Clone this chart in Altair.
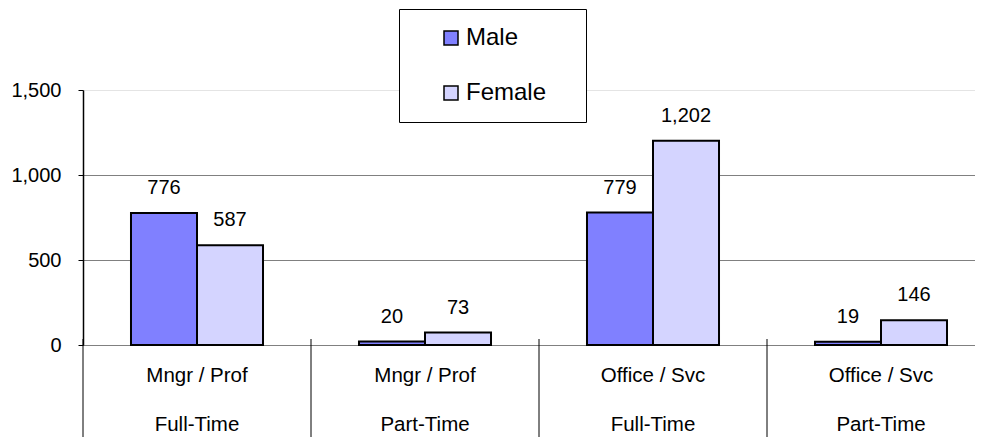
import altair as alt
import pandas as pd

# ---- data ----
categories = ["Mngr / Prof", "Mngr / Prof", "Office / Svc", "Office / Svc"]
employment = ["Full-Time", "Part-Time", "Full-Time", "Part-Time"]
male = [776, 20, 779, 19]
female = [587, 73, 1202, 146]
genders = ["Male", "Female"]
y_ticks = [0, 500, 1000, 1500]

keys = [f"{c} | {e}" for c, e in zip(categories, employment)]

bars_df = pd.DataFrame({
    "key": keys * 2,
    "gender": ["Male"] * len(keys) + ["Female"] * len(keys),
    "value": male + female,
})
groups_df = pd.DataFrame({"key": keys, "cat": categories, "emp": employment})

FONT = "Liberation Sans"

# groups are 228px wide; the 4th one runs past the right edge of the picture
x_scale = alt.Scale(domain=keys, paddingInner=0, paddingOuter=0, range=[0, 912])
x_enc = alt.X("key:N", scale=x_scale, axis=None, sort=keys)
xoff = alt.XOffset("gender:N", sort=genders,
                   scale=alt.Scale(domain=genders, paddingInner=0, paddingOuter=0.727))
y_enc = alt.Y(
    "value:Q",
    scale=alt.Scale(domain=[0, 1500], nice=False, zero=True),
    axis=alt.Axis(
        values=y_ticks, format=",.0f", title=None,
        labelFontSize=20, labelColor="black", labelPadding=17, labelFont=FONT,
        tickSize=5, tickColor="black", domainColor="black", domainWidth=1.5,
        grid=True, gridWidth=1,
        gridColor={"expr": "datum.value === 1500 ? '#e4e4e4' : '#808080'"},
    ),
)

bars = alt.Chart(bars_df).mark_bar(stroke="black", strokeWidth=2).encode(
    x=x_enc,
    xOffset=xoff,
    y=y_enc,
    color=alt.Color(
        "gender:N", sort=genders,
        scale=alt.Scale(domain=genders, range=["#8080FF", "#D4D4FF"]),
        legend=alt.Legend(
            # white (invisible) title on the right only widens the framed box
            title="M", titleOrient="right", titleFontSize=24,
            titleFont=FONT, titlePadding=3, titleColor="white",
            orient="none", legendX=316, legendY=-81,
            direction="vertical", strokeColor="black", fillColor="white",
            padding=17, symbolType="square", symbolSize=196,
            symbolStrokeColor="black", symbolStrokeWidth=1.5, symbolOffset=23,
            labelFontSize=24, labelFont=FONT, labelColor="black",
            labelOffset=3, rowPadding=31,
        ),
    ),
)

labels = alt.Chart(bars_df).mark_text(
    font=FONT, fontSize=20, baseline="alphabetic", dy=-19, color="black"
).encode(
    x=x_enc, xOffset=xoff, y=y_enc,
    text=alt.Text("value:Q", format=",.0f"),
)

cat_text = alt.Chart(groups_df).mark_text(
    font=FONT, fontSize=20.5, baseline="alphabetic", color="black"
).encode(x=x_enc, y=alt.value(292), text="cat:N")

emp_text = alt.Chart(groups_df).mark_text(
    font=FONT, fontSize=20.5, baseline="alphabetic", color="black"
).encode(x=x_enc, y=alt.value(341), text="emp:N")

seps = alt.Chart(groups_df).mark_rule(color="black", strokeWidth=1).encode(
    x=alt.X("key:N", scale=x_scale, axis=None, sort=keys, bandPosition=0),
    y=alt.value(249),
    y2=alt.value(360),
)

chart = alt.layer(seps, bars, labels, cat_text, emp_text).properties(
    width=892, height=255,
    padding={"left": 2, "top": 0, "right": 0, "bottom": 0},
).configure_view(stroke=None).configure(font=FONT)

chart.save("out.html", embed_options={"renderer": "svg", "actions": False})
